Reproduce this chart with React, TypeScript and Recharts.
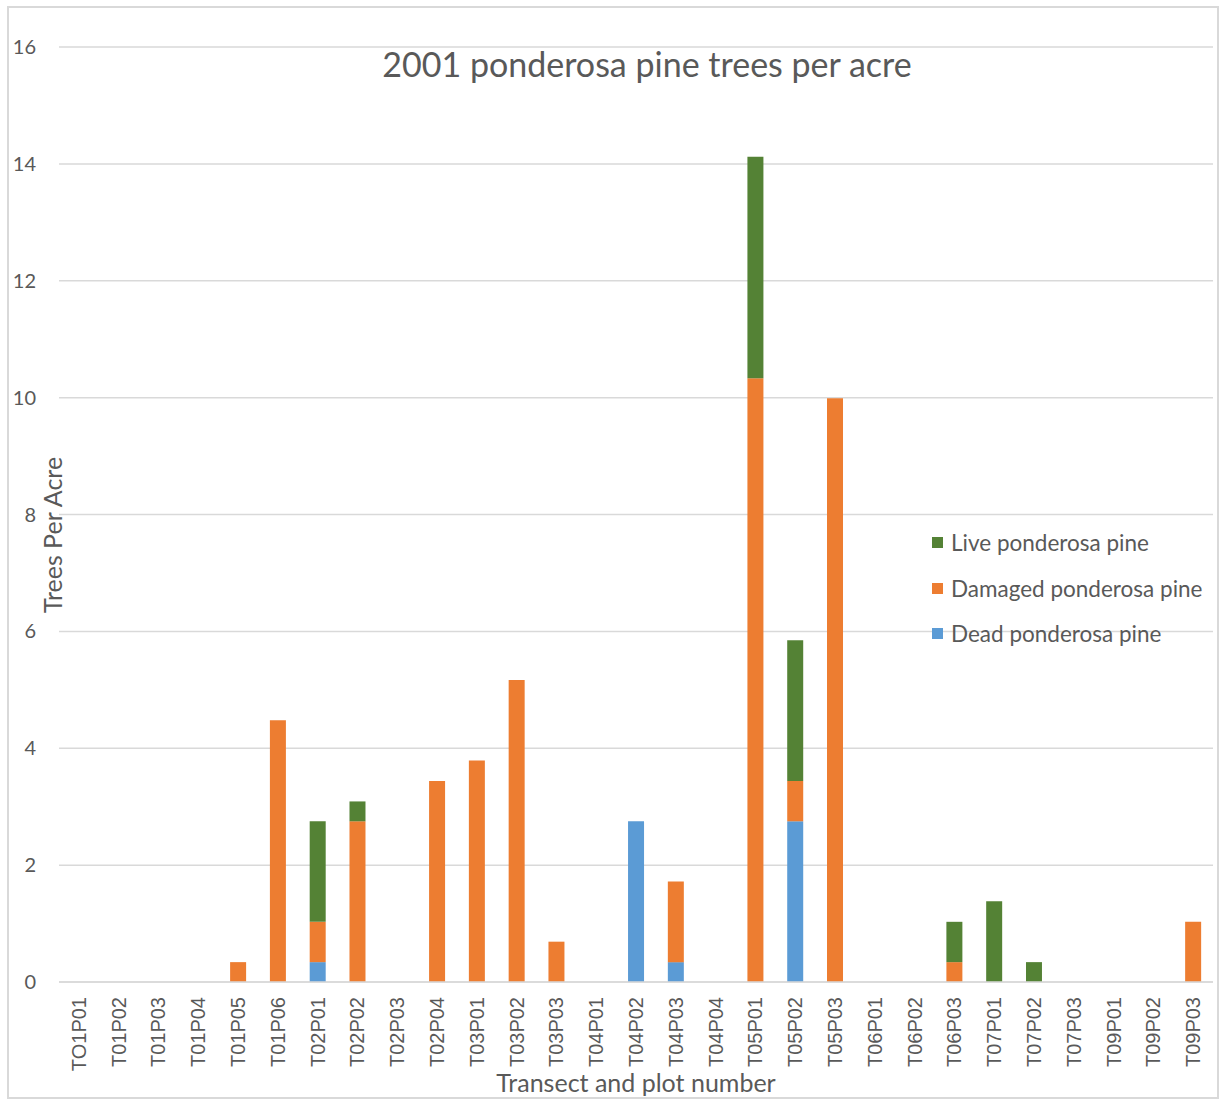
import { BarChart, Bar, XAxis, YAxis, CartesianGrid, Legend } from "recharts";

// transect / plot labels (first one really is "TO1" in the source sheet)
const plots = [
  "TO1P01", "T01P02", "T01P03", "T01P04", "T01P05", "T01P06",
  "T02P01", "T02P02", "T02P03", "T02P04",
  "T03P01", "T03P02", "T03P03",
  "T04P01", "T04P02", "T04P03", "T04P04",
  "T05P01", "T05P02", "T05P03",
  "T06P01", "T06P02", "T06P03",
  "T07P01", "T07P02", "T07P03",
  "T09P01", "T09P02", "T09P03",
];

const dead = [
  0, 0, 0, 0, 0, 0,
  0.34, 0, 0, 0,
  0, 0, 0,
  0, 2.75, 0.34, 0,
  0, 2.75, 0,
  0, 0, 0,
  0, 0, 0,
  0, 0, 0,
];

const damaged = [
  0, 0, 0, 0, 0.34, 4.48,
  0.69, 2.75, 0, 3.44,
  3.79, 5.17, 0.69,
  0, 0, 1.38, 0,
  10.33, 0.69, 9.99,
  0, 0, 0.34,
  0, 0, 0,
  0, 0, 1.03,
];

const live = [
  0, 0, 0, 0, 0, 0,
  1.72, 0.34, 0, 0,
  0, 0, 0,
  0, 0, 0, 0,
  3.79, 2.41, 0,
  0, 0, 0.69,
  1.38, 0.34, 0,
  0, 0, 0,
];

const yTicks = [0, 2, 4, 6, 8, 10, 12, 14, 16];

const series = [
  { key: "Live ponderosa pine", color: "#548235" },
  { key: "Damaged ponderosa pine", color: "#ED7D31" },
  { key: "Dead ponderosa pine", color: "#5B9BD5" },
];

const data = plots.map((plot, i) => ({
  plot,
  "Dead ponderosa pine": dead[i],
  "Damaged ponderosa pine": damaged[i],
  "Live ponderosa pine": live[i],
}));

const GRAY = "#595959";
const CAL = "Lato, 'Open Sans', sans-serif";

const PlotTick = (props: any) => {
  const { x, y, payload } = props;
  return (
    <text
      x={x}
      y={y}
      transform={`rotate(-90 ${x} ${y})`}
      textAnchor="end"
      dominantBaseline="central"
      fill={GRAY}
      fontSize={20}
      fontFamily="'Liberation Sans', Arial, sans-serif"
    >
      {payload.value}
    </text>
  );
};

const LegendBox = () => (
  <div style={{ fontFamily: CAL, fontSize: 22.5, color: GRAY }}>
    {series.map((s) => (
      <div key={s.key} style={{ display: "flex", alignItems: "center", height: 45.5 }}>
        <span style={{ width: 11, height: 11, background: s.color, marginRight: 8 }} />
        {s.key}
      </div>
    ))}
  </div>
);

export default function App() {
  return (
    <div style={{ position: "absolute", left: 0, top: 0, width: 1221, height: 1099, background: "#fff" }}>
      <div
        style={{
          position: "absolute",
          left: 7,
          top: 6,
          width: 1208,
          height: 1089,
          border: "2px solid #d9d9d9",
        }}
      />
      <BarChart
        width={1221}
        height={1099}
        data={data}
        margin={{ top: 47, right: 8, left: 0, bottom: 0 }}
        barCategoryGap="30%"
      >
        <CartesianGrid vertical={false} stroke="#d9d9d9" strokeWidth={1.5} />
        <XAxis
          dataKey="plot"
          interval={0}
          height={117}
          tickLine={false}
          tickSize={0}
          tickMargin={15}
          axisLine={{ stroke: "#d9d9d9", strokeWidth: 1.5 }}
          tick={<PlotTick />}
        />
        <YAxis
          width={59}
          domain={[0, 16]}
          ticks={yTicks}
          axisLine={false}
          tickLine={false}
          tickMargin={17}
          tick={{ fill: GRAY, fontSize: 20, fontFamily: CAL }}
        />
        <Legend
          layout="vertical"
          align="center"
          verticalAlign="middle"
          content={<LegendBox />}
          wrapperStyle={{ position: "absolute", left: 932, top: 520, width: 290 }}
        />
        <Bar dataKey="Dead ponderosa pine" stackId="a" fill="#5B9BD5" isAnimationActive={false} />
        <Bar dataKey="Damaged ponderosa pine" stackId="a" fill="#ED7D31" isAnimationActive={false} />
        <Bar dataKey="Live ponderosa pine" stackId="a" fill="#548235" isAnimationActive={false} />
      </BarChart>
      <div
        style={{
          position: "absolute",
          left: 0,
          width: 1294,
          top: 43,
          textAlign: "center",
          fontFamily: CAL,
          fontSize: 34,
          color: GRAY,
          whiteSpace: "nowrap",
        }}
      >
        2001 ponderosa pine trees per acre
      </div>
      <div
        style={{
          position: "absolute",
          left: 59,
          width: 1154,
          top: 1067,
          textAlign: "center",
          fontFamily: CAL,
          fontSize: 25,
          color: GRAY,
        }}
      >
        Transect and plot number
      </div>
      <div
        style={{
          position: "absolute",
          left: 52,
          top: 535,
          transform: "translate(-50%, -50%) rotate(-90deg)",
          fontFamily: CAL,
          fontSize: 25,
          color: GRAY,
          whiteSpace: "nowrap",
        }}
      >
        Trees Per Acre
      </div>
    </div>
  );
}
